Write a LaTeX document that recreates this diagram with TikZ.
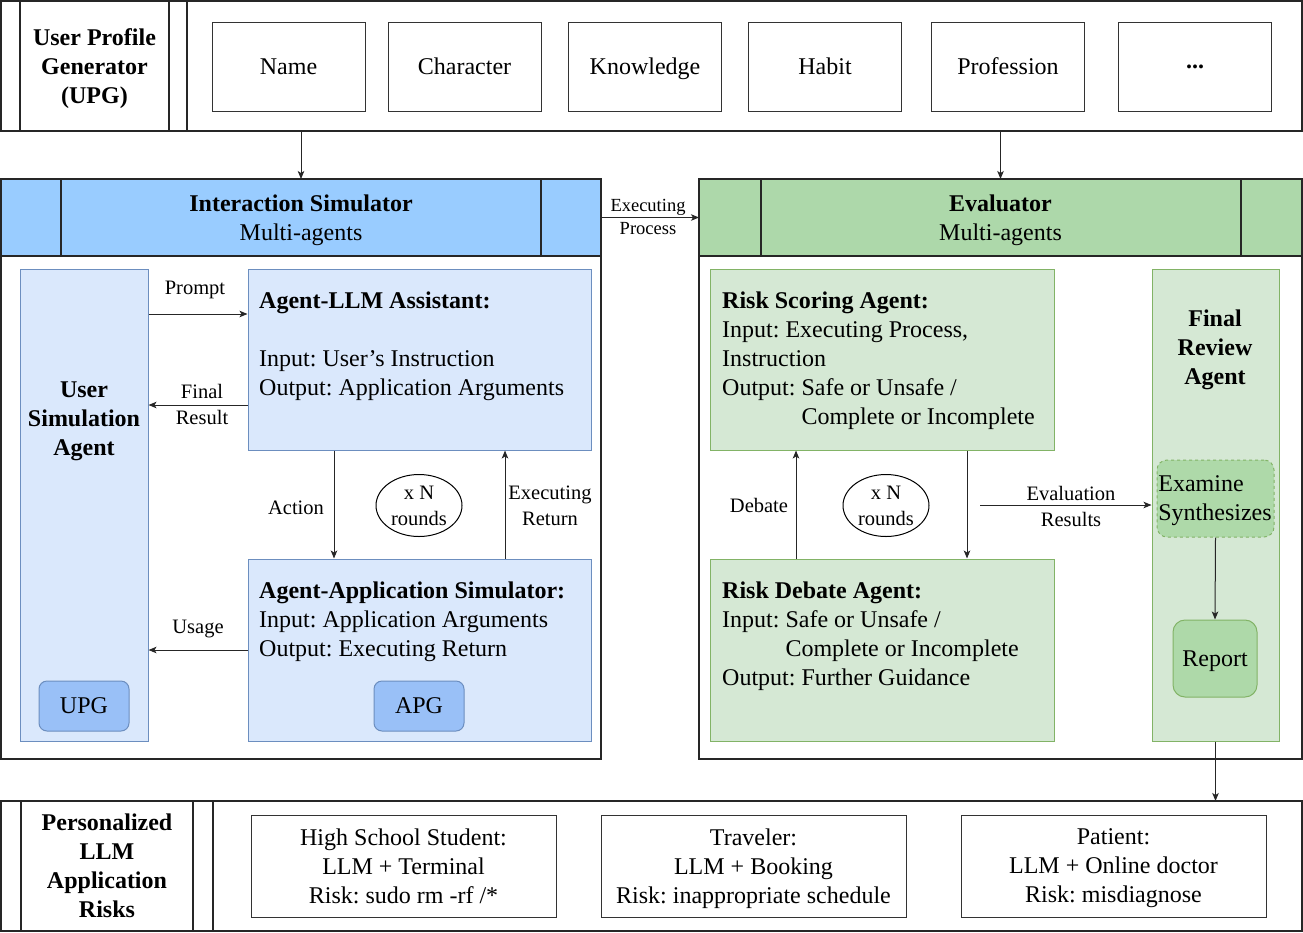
\documentclass[tikz,border=0pt]{standalone}
\usepackage{fontspec}
\setmainfont{Liberation Serif}
\usetikzlibrary{arrows.meta,shapes.geometric,calc}
\definecolor{hblue}{HTML}{99CCFF}
\definecolor{lblue}{HTML}{DAE8FC}
\definecolor{bblue}{HTML}{6C8EBF}
\definecolor{mblue}{HTML}{99C0F7}
\definecolor{hgreen}{HTML}{ADD8AA}
\definecolor{lgreen}{HTML}{D5E8D4}
\definecolor{bgreen}{HTML}{82B366}
\definecolor{mgreen}{HTML}{AED9A9}
\newcommand\fsmain{\fontsize{24}{29}\selectfont}
\newcommand\fslab{\fontsize{20.5}{26}\selectfont}
\newcommand\fssm{\fontsize{18.5}{23}\selectfont}
\frenchspacing
\begin{document}
\frenchspacing
\begin{tikzpicture}[x=1pt,y=-1pt,
  frame/.style={draw=black!85, line width=2pt, inner sep=0pt, outer sep=0pt},
  barline/.style={draw=black!85, line width=2pt},
  abox/.style={draw=black!80, line width=1pt, minimum width=153, minimum height=89, inner sep=0pt, text depth=0pt, font=\fsmain},
  rbox/.style={draw=black!80, line width=1pt, minimum width=305, minimum height=102, inner sep=0pt, text depth=0pt, align=center, font=\fsmain},
  bluebox/.style={draw=bblue, fill=lblue, line width=1pt, inner sep=0pt},
  greenbox/.style={draw=bgreen, fill=lgreen, line width=1pt, inner sep=0pt},
  tag/.style={draw=bblue, fill=mblue, line width=1pt, rounded corners=8pt, minimum width=90, minimum height=50, inner sep=0pt, text depth=0pt, font=\fsmain},
  btitle/.style={align=center, font=\fsmain\bfseries, inner sep=0pt, text depth=0pt},
  ctitle/.style={align=center, font=\fsmain, inner sep=0pt, text depth=0pt},
  ltext/.style={anchor=north west, align=left, font=\fsmain, inner sep=0pt},
  lab/.style={align=center, font=\fslab, inner sep=0pt, text depth=0pt},
  rnd/.style={draw=black, line width=1pt, ellipse, minimum width=86, minimum height=62, inner sep=0pt, text depth=0pt, align=center, font=\fslab},
  arr/.style={-{Stealth[length=8pt,width=6.5pt,inset=2pt]}, line width=1pt, draw=black!85},
]
\useasboundingbox (0,0) rectangle (1303,932);

% ---------- top: user profile generator ----------
\node[frame, minimum width=1301, minimum height=130] (upgframe) at (651.5,66) {};
\node[frame, minimum width=186, minimum height=130] (upgcell) at (94,66) {};
\draw[barline] ([xshift=19pt]upgcell.north west) -- ([xshift=19pt]upgcell.south west);
\draw[barline] ([xshift=-18pt]upgcell.north east) -- ([xshift=-18pt]upgcell.south east);
\node[btitle] (upgtitle) at (94.5,66) {User Profile\\Generator\\(UPG)};
\node[abox] (aname) at (288.5,66.5) {Name};
\node[abox] (achar) at (464.5,66.5) {Character};
\node[abox] (aknow) at (645,66.5) {Knowledge};
\node[abox] (ahabit) at (825,66.5) {Habit};
\node[abox] (aprof) at (1008,66.5) {Profession};
\node[abox] (adots) at (1195,66.5) {\textbf{...}};

% ---------- interaction simulator ----------
\node[frame, minimum width=600, minimum height=580] (simframe) at (301,469) {};
\node[frame, fill=hblue, minimum width=600, minimum height=77] (simhead) at (301,217.5) {};
\draw[barline] ([xshift=60pt]simhead.north west) -- ([xshift=60pt]simhead.south west);
\draw[barline] ([xshift=-60pt]simhead.north east) -- ([xshift=-60pt]simhead.south east);
\node[ctitle] (simtitle) at (301,217.5) {\textbf{Interaction Simulator}\\Multi-agents};

% ---------- evaluator ----------
\node[frame, minimum width=603, minimum height=580] (evalframe) at (1000.5,469) {};
\node[frame, fill=hgreen, minimum width=603, minimum height=77] (evalhead) at (1000.5,217.5) {};
\draw[barline] ([xshift=62pt]evalhead.north west) -- ([xshift=62pt]evalhead.south west);
\draw[barline] ([xshift=-61pt]evalhead.north east) -- ([xshift=-61pt]evalhead.south east);
\node[ctitle] (evaltitle) at (1000.5,217.5) {\textbf{Evaluator}\\Multi-agents};

% ---------- left interior ----------
\node[bluebox, minimum width=128, minimum height=472] (usa) at (84,505) {};
\node[btitle] (usatitle) at (84,419) {User\\Simulation\\Agent};
\node[tag] (upgn) at (84,706) {UPG};

\node[bluebox, minimum width=343, minimum height=181] (llm) at (419.5,359.5) {};
\node[ltext] (llmtxt) at (259,292) {\textbf{Agent-LLM Assistant:}\\[29pt]Input: User\symbol{39}s Instruction\\Output: Application Arguments};

\node[bluebox, minimum width=343, minimum height=182] (app) at (419.5,650) {};
\node[ltext] (apptxt) at (259,582) {\textbf{Agent-Application Simulator:}\\Input: Application Arguments\\Output: Executing Return};
\node[tag] (apg) at (419,706) {APG};

\node[rnd] (rounds1) at (419,505.5) {x N\\rounds};

\coordinate (yprompt) at (0,314);
\coordinate (yfinal) at (0,405);
\coordinate (yusage) at (0,650);
\coordinate (xaction) at (334,0);
\coordinate (xexret) at (505,0);

\draw[arr] (usa.east |- yprompt) -- (llm.west |- yprompt);
\node[lab] (lprompt) at (195,288) {Prompt};
\draw[arr] (llm.west |- yfinal) -- (usa.east |- yfinal);
\node[lab] (lfinal) at (202,404) {Final\\Result};
\draw[arr] (llm.south -| xaction) -- (app.north -| xaction);
\node[lab] (laction) at (296,508) {Action};
\draw[arr] (app.north -| xexret) -- (llm.south -| xexret);
\node[lab] (lexret) at (550,506) {Executing\\Return};
\draw[arr] (app.west |- yusage) -- (usa.east |- yusage);
\node[lab] (lusage) at (198,627) {Usage};

% ---------- right interior ----------
\node[greenbox, minimum width=344, minimum height=181] (rsa) at (882,359.5) {};
\node[ltext] (rsatxt) at (722,292) {\textbf{Risk Scoring Agent:}\\Input: Executing Process,\\Instruction\\Output: Safe or Unsafe /\\\phantom{Output: }Complete or Incomplete};

\node[greenbox, minimum width=344, minimum height=182] (rda) at (882,650) {};
\node[ltext] (rdatxt) at (722,582) {\textbf{Risk Debate Agent:}\\Input: Safe or Unsafe /\\\phantom{Input: }Complete or Incomplete\\Output: Further Guidance};

\node[rnd] (rounds2) at (886,505.5) {x N\\rounds};

\node[greenbox, minimum width=127, minimum height=472] (fra) at (1215.5,505) {};
\node[btitle] (fratitle) at (1215,347) {Final\\Review\\Agent};
\node[draw=bgreen, dashed, fill=mgreen, line width=1pt, rounded corners=10pt, minimum width=117, minimum height=77, inner sep=0pt] (exam) at (1215.5,498.5) {};
\node[align=left, font=\fsmain, inner sep=0pt, text depth=0pt] (examtxt) at (1215,498.5) {Examine\\Synthesizes};
\node[draw=bgreen, fill=mgreen, line width=1pt, rounded corners=12pt, minimum width=84, minimum height=77, inner sep=0pt, text depth=0pt, font=\fsmain] (report) at (1215,658.5) {Report};

\coordinate (xdebate) at (796,0);
\coordinate (xdown) at (967,0);
\coordinate (evstart) at (980,505);

\draw[arr] (rda.north -| xdebate) -- (rsa.south -| xdebate);
\node[lab] (ldebate) at (759,505) {Debate};
\draw[arr] (rsa.south -| xdown) -- (rda.north -| xdown);
\draw[arr] (evstart) -- (fra.west |- evstart);
\node[lab] (leval) at (1071,506) {Evaluation\\Results};
\draw[arr] (exam.south) -- (report.north);

% ---------- bottom ----------
\node[frame, minimum width=1301, minimum height=130] (riskframe) at (651.5,866) {};
\node[frame, minimum width=212, minimum height=130] (riskcell) at (107,866) {};
\draw[barline] ([xshift=20pt]riskcell.north west) -- ([xshift=20pt]riskcell.south west);
\draw[barline] ([xshift=-20pt]riskcell.north east) -- ([xshift=-20pt]riskcell.south east);
\node[btitle] (risktitle) at (107,866) {Personalized\\LLM\\Application\\Risks};
\node[rbox] (rstudent) at (403.5,866) {High School Student:\\LLM + Terminal\\Risk: sudo rm -rf /*};
\node[rbox] (rtravel) at (753.5,866) {Traveler:\\LLM + Booking\\Risk: inappropriate schedule};
\node[rbox] (rpatient) at (1113.5,866) {Patient:\\LLM + Online doctor\\Risk: misdiagnose};

% ---------- cross connectors ----------
\draw[arr] (upgframe.south -| simhead.north) -- (simhead.north);
\draw[arr] (upgframe.south -| evalhead.north) -- (evalhead.north);
\draw[arr] (simhead.east) -- (evalhead.west);
\node[align=center, font=\fssm, inner sep=0pt, text depth=0pt] (lexproc) at (648,216.5) {Executing\\Process};
\draw[arr] (fra.south) -- (riskframe.north -| fra.south);
\end{tikzpicture}
\end{document}
